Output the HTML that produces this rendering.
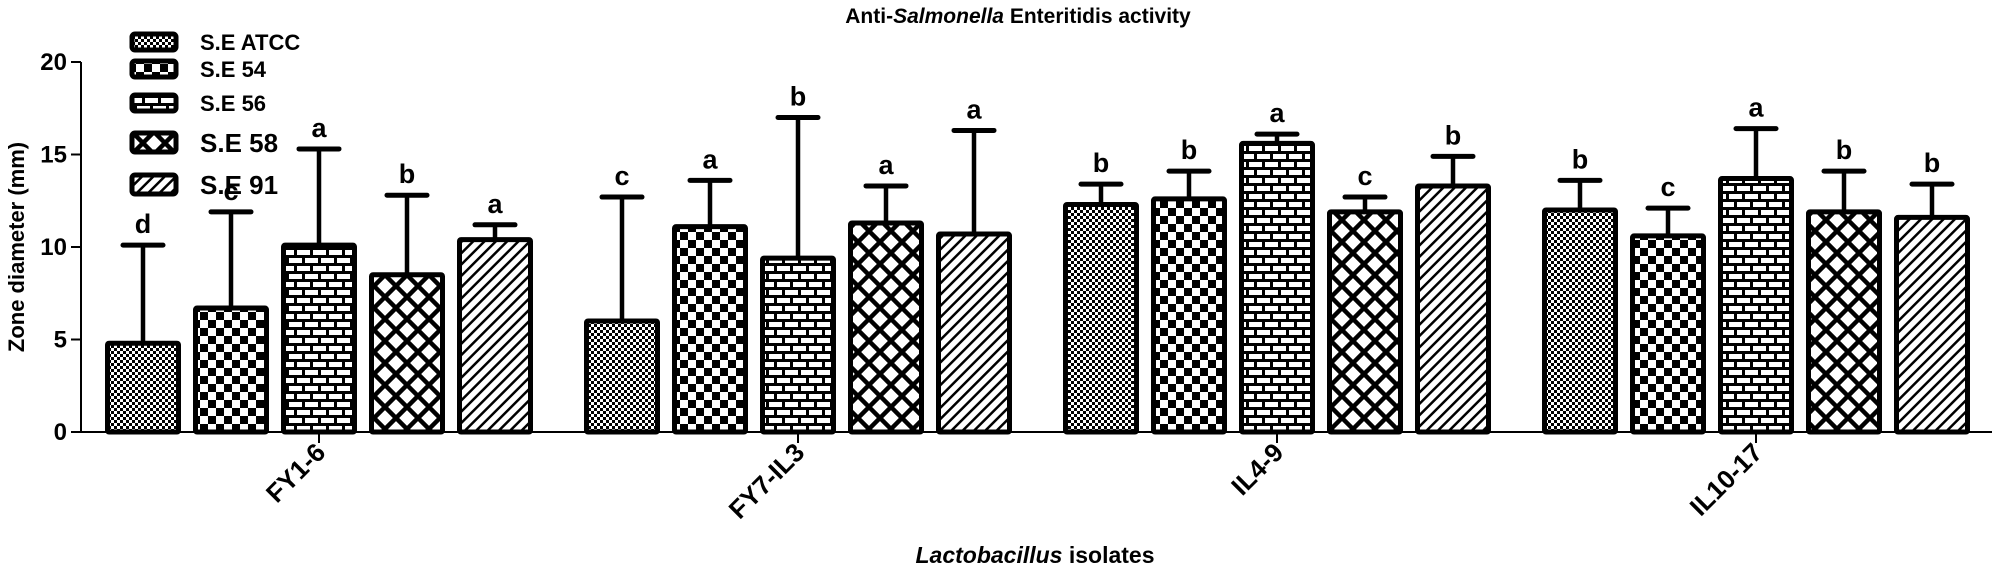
<!DOCTYPE html>
<html><head><meta charset="utf-8">
<style>
html,body{margin:0;padding:0;background:#fff;}
svg{display:block;font-family:"Liberation Sans",Arial,sans-serif;font-weight:bold;}
</style></head>
<body>
<svg id="chart" width="2000" height="570" viewBox="0 0 2000 570" xmlns="http://www.w3.org/2000/svg">
<defs>
  <pattern id="p0" patternUnits="userSpaceOnUse" width="6" height="6">
    <rect width="6" height="6" fill="#fff"/><rect width="3" height="3" fill="#000"/><rect x="3" y="3" width="3" height="3" fill="#000"/>
  </pattern>
  <pattern id="p1" patternUnits="userSpaceOnUse" width="16" height="16">
    <rect width="16" height="16" fill="#fff"/><rect width="8" height="8" fill="#000"/><rect x="8" y="8" width="8" height="8" fill="#000"/>
  </pattern>
  <pattern id="p2" patternUnits="userSpaceOnUse" width="32" height="16">
    <rect width="32" height="16" fill="#000"/>
    <rect x="1" y="2" width="13" height="5" fill="#fff"/><rect x="17" y="2" width="13" height="5" fill="#fff"/>
    <rect x="-7" y="10" width="13" height="5" fill="#fff"/><rect x="9" y="10" width="13" height="5" fill="#fff"/><rect x="25" y="10" width="13" height="5" fill="#fff"/>
  </pattern>
  <pattern id="p3" patternUnits="userSpaceOnUse" width="22" height="22">
    <rect width="22" height="22" fill="#fff"/>
    <path d="M-2,-2 L24,24 M-2,20 L2,24 M20,-2 L24,2 M24,-2 L-2,24 M-2,2 L2,-2 M20,24 L24,20" stroke="#000" stroke-width="4.5"/>
  </pattern>
  <pattern id="p4" patternUnits="userSpaceOnUse" width="8" height="8" patternTransform="rotate(45)">
    <rect width="8" height="8" fill="#fff"/><rect width="2.5" height="8" fill="#000"/>
  </pattern>
</defs>
<text x="1018" y="23" text-anchor="middle" font-size="21">Anti-<tspan font-style="italic">Salmonella</tspan> Enteritidis activity</text>
<text transform="translate(24,247) rotate(-90)" text-anchor="middle" font-size="22">Zone diameter (mm)</text>
<text x="1035" y="563" text-anchor="middle" font-size="23"><tspan font-style="italic">Lactobacillus</tspan> isolates</text>
<g id="axes"></g>
<g id="bars"></g>
<g id="legend"></g>
</svg>
<script>
const categories = ["FY1-6","FY7-IL3","IL4-9","IL10-17"];
const seriesNames = ["S.E ATCC","S.E 54","S.E 56","S.E 58","S.E 91"];
const seATCC = [4.8, 6.0, 12.3, 12.0];
const se54 = [6.7, 11.1, 12.6, 10.6];
const se56 = [10.1, 9.4, 15.6, 13.7];
const se58 = [8.5, 11.3, 11.9, 11.9];
const se91 = [10.4, 10.7, 13.3, 11.6];
const errATCC = [5.3, 6.7, 1.1, 1.6];
const err54 = [5.2, 2.5, 1.5, 1.5];
const err56 = [5.2, 7.6, 0.5, 2.7];
const err58 = [4.3, 2.0, 0.8, 2.2];
const err91 = [0.8, 5.6, 1.6, 1.8];
const letATCC = ["d","c","b","b"];
const let54 = ["c","a","b","c"];
const let56 = ["a","b","a","a"];
const let58 = ["b","a","c","b"];
const let91 = ["a","a","b","b"];
const yTicks = [0,5,10,15,20];

const values = [seATCC,se54,se56,se58,se91];
const errs = [errATCC,err54,err56,err58,err91];
const lets = [letATCC,let54,let56,let58,let91];
const NS="http://www.w3.org/2000/svg";
const X0=81, X1=1992, Y0=432, PX=18.5;
const groupStart=105, groupPitch=479, barPitch=88, barW=76;
function y(v){return Y0-v*PX;}
function xBar(g,s){return groupStart+g*groupPitch+s*barPitch;}
function mk(tag,attrs,parent){const e=document.createElementNS(NS,tag);for(const k in attrs)e.setAttribute(k,attrs[k]);parent.appendChild(e);return e;}
const axes=document.getElementById('axes'), bars=document.getElementById('bars'), legend=document.getElementById('legend');

let yl=mk('line',{x1:X0,y1:y(20),x2:X0,y2:Y0,stroke:'#000','stroke-width':2},axes);


let xl=mk('line',{x1:X0,y1:Y0,x2:X1,y2:Y0,stroke:'#000','stroke-width':2},axes);


yTicks.forEach(t=>{
  const tk=mk('line',{x1:X0-10,y1:y(t),x2:X0,y2:y(t),stroke:'#000','stroke-width':2},axes);
  
  
  const tl=mk('text',{x:X0-14,y:y(t)+8,'text-anchor':'end','font-size':24},axes);
  
  
  tl.textContent=t;
});
categories.forEach((c,g)=>{
  const cx=xBar(g,2)+barW/2;
  const tk=mk('line',{x1:cx,y1:Y0,x2:cx,y2:Y0+11,stroke:'#000','stroke-width':2},axes);
  
  
  const tl=mk('text',{transform:`translate(${cx+8},${Y0+22}) rotate(-45)`,'text-anchor':'end','font-size':26},axes);
  
  
  tl.textContent=c;
});
values.forEach((ser,s)=>{
  ser.forEach((v,g)=>{
    const x=xBar(g,s), cx=x+barW/2, top=y(v), et=y(v+errs[s][g]);
    const el=mk('line',{x1:cx,y1:top,x2:cx,y2:et,stroke:'#000','stroke-width':4.5},bars);
    
    
    const cap=mk('line',{x1:cx-20,y1:et,x2:cx+20,y2:et,stroke:'#000','stroke-width':5,'stroke-linecap':'round'},bars);
    
    
    const r=mk('rect',{x:x+2.5,y:top,width:barW-5,height:Y0-top,fill:`url(#p${s})`,stroke:'#000','stroke-width':5,rx:1.5},bars);
    
    
    const lt=mk('text',{x:cx,y:et-12,'text-anchor':'middle','font-size':27},bars);
    
    
    lt.textContent=lets[s][g];
  });
});
const legY=[32,59,93,131,173], legH=[20,20,20,23,23], legF=[22,22,22,26,26];
seriesNames.forEach((n,s)=>{
  const r=mk('rect',{x:132,y:legY[s]+2,width:44,height:legH[s]-4,fill:`url(#p${s})`,stroke:'#000','stroke-width':5,rx:3},legend);
  
  
  const t=mk('text',{x:200,y:legY[s]+legH[s]/2+legF[s]*0.36,'font-size':legF[s]},legend);
  
  
  t.textContent=n;
});
</script>
</body></html>
